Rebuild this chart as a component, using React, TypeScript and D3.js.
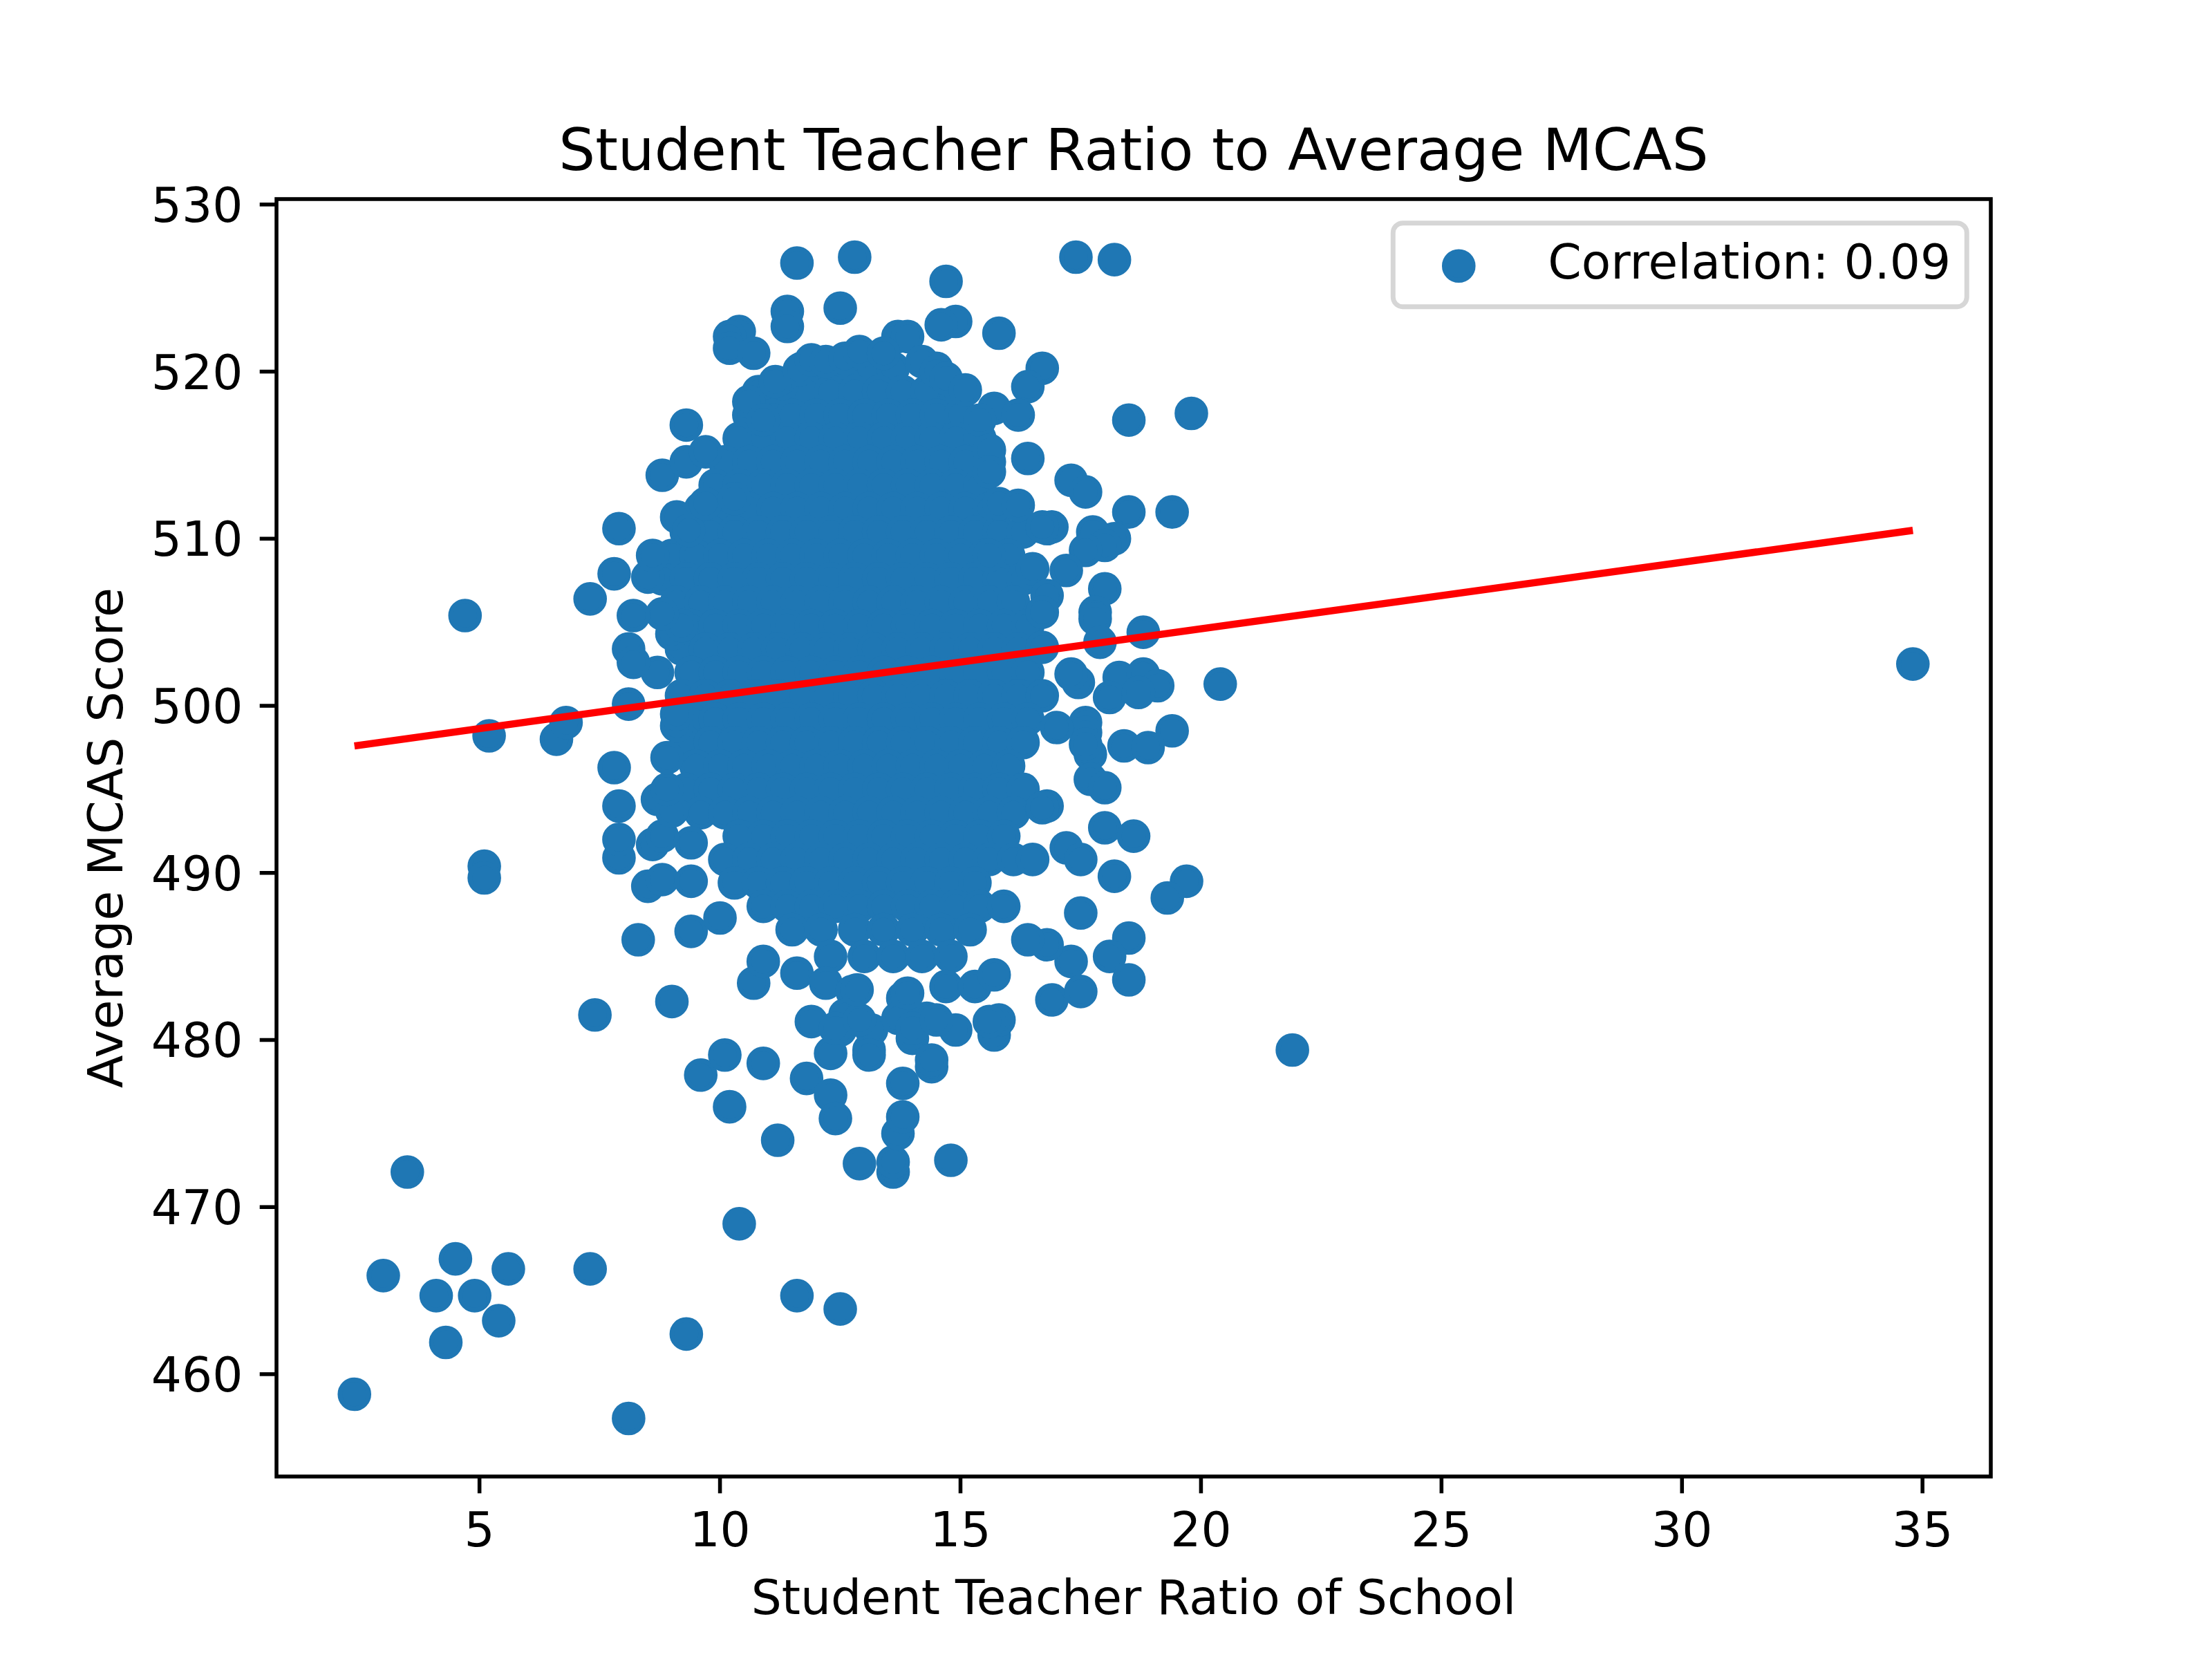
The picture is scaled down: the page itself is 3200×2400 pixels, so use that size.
import * as d3 from 'd3';

// values
const xTicks = [5, 10, 15, 20, 25, 30, 35];
const yTicks = [460, 470, 480, 490, 500, 510, 520, 530];

const lowLeft: [number, number][] = [
  [2.4, 458.8], [3.5, 472.1], [3.0, 465.9], [4.1, 464.7], [4.3, 461.9], [4.5, 466.9],
  [4.9, 464.7], [5.4, 463.2], [5.6, 466.3], [7.3, 466.3], [8.1, 457.35], [9.3, 462.4],
  [10.4, 469.0], [11.6, 464.7], [12.5, 463.9],
];

const lowerPoints: [number, number][] = [
  [7.4, 481.5], [9.0, 482.3], [9.6, 477.9], [10.1, 479.1], [10.2, 476.0], [10.9, 478.6],
  [11.2, 474.0], [11.8, 477.7], [11.9, 481.1], [12.3, 476.7], [12.4, 475.3], [12.5, 480.6],
  [12.3, 479.2], [12.9, 472.6], [13.6, 472.1], [13.6, 472.7], [13.7, 474.4], [13.8, 475.4],
  [13.8, 477.4], [14.8, 472.8], [14.4, 478.4], [13.1, 479.4], [15.7, 480.3], [15.8, 481.2],
  [14.9, 480.6], [16.9, 482.4], [17.5, 482.9], [18.5, 483.6], [10.7, 483.4], [11.6, 484.0],
  [12.2, 483.4], [12.75, 482.9], [13.8, 482.5], [14.7, 483.2], [15.3, 483.2], [12.6, 481.5],
  [13.15, 480.6], [13.7, 481.3], [14.0, 480.1], [14.3, 481.3], [15.6, 481.1], [21.9, 479.4],
  [14.0, 480.7], [12.4, 480.7], [13.1, 479.1], [14.4, 478.8], [12.9, 481.2], [10.9, 484.7],
  [15.7, 483.9], [13.9, 482.8], [12.85, 483.0], [14.5, 481.2],
];

const leftEdge: [number, number][] = [
  [8.3, 486.0], [9.4, 486.5], [10.0, 487.3], [8.5, 489.2], [8.8, 489.6], [7.9, 490.9],
  [7.9, 492.0], [7.9, 494.0], [7.8, 496.3], [9.4, 491.8], [8.6, 491.7], [8.8, 492.2],
  [8.7, 494.4], [9.0, 493.7], [8.9, 495.0], [8.9, 496.9], [9.1, 498.8], [9.1, 499.5],
  [8.1, 500.1], [8.7, 502.0], [8.1, 503.4], [8.2, 502.6], [9.0, 504.3], [9.2, 504.8],
  [8.8, 505.5], [8.2, 505.4], [8.5, 507.7], [8.6, 509.0], [9.1, 511.3], [9.35, 510.5],
  [9.7, 512.1], [10.3, 512.4], [7.9, 510.6], [7.8, 507.9], [7.3, 506.4], [6.6, 498.0],
  [6.8, 499.0], [5.2, 498.2], [5.1, 490.4], [5.1, 489.7], [4.7, 505.4], [8.8, 513.8],
  [9.3, 514.6], [9.7, 515.2], [9.3, 516.8], [9.4, 489.5],
];

const upperPoints: [number, number][] = [
  [11.6, 526.5], [12.8, 526.85], [17.4, 526.85], [18.2, 526.7], [14.7, 525.4], [11.4, 523.6],
  [11.4, 522.7], [12.5, 523.8], [14.9, 523.0], [15.8, 522.3], [10.4, 522.4], [10.2, 522.1],
  [10.2, 521.4], [10.7, 521.1], [14.6, 522.8], [13.7, 522.1], [13.9, 522.1], [16.7, 520.2],
  [16.4, 519.1], [15.7, 517.8], [16.2, 517.4], [10.6, 518.2], [11.3, 519.3], [11.15, 519.4],
  [11.65, 520.1], [11.9, 520.7], [12.2, 520.6], [12.6, 520.8], [12.9, 521.2], [13.4, 521.1],
  [14.2, 520.6], [14.5, 520.0], [14.7, 519.6], [15.1, 518.9], [15.4, 517.1], [15.6, 515.3],
  [15.6, 514.0], [15.8, 512.1], [16.2, 512.0], [15.6, 509.0], [10.9, 517.1],
];

const rightPoints: [number, number][] = [
  [18.5, 517.1], [19.8, 517.5], [16.4, 514.8], [17.3, 513.5], [17.6, 512.8], [18.5, 511.6],
  [19.4, 511.6], [16.8, 510.6], [17.8, 510.2], [18.2, 510.0], [17.75, 510.4], [18.0, 509.6],
  [17.6, 509.3], [16.9, 510.7], [16.7, 510.7], [17.2, 508.1], [16.5, 508.2], [18.0, 507.0],
  [17.8, 505.6], [17.8, 505.2], [17.9, 503.8], [18.8, 504.4], [16.8, 506.6], [16.7, 505.6],
  [16.7, 503.5], [17.45, 501.4], [17.3, 501.9], [18.3, 501.7], [18.8, 501.9], [19.1, 501.2],
  [18.1, 500.5], [18.7, 500.8], [20.4, 501.3], [17.6, 499.0], [17.6, 498.4], [17.0, 498.7],
  [18.4, 497.6], [18.9, 497.5], [19.4, 498.5], [17.7, 497.1], [17.6, 497.7], [17.7, 495.6],
  [18.0, 495.1], [16.8, 494.0], [16.7, 493.9], [18.0, 492.7], [18.6, 492.2], [17.2, 491.5],
  [17.5, 490.8], [16.5, 490.8], [18.2, 489.8], [19.7, 489.5], [19.3, 488.5], [17.5, 487.6],
  [15.9, 488.0], [18.5, 486.1], [18.1, 485.0], [17.3, 484.7], [16.8, 485.7], [16.4, 486.0],
  [34.8, 502.5],
];

// the dense middle of the cloud, one row of ratios per score level
const coreRows: [number, number[]][] = [
  [520.2, [11.7, 12.2, 12.6, 13.1, 13.6, 14.5]],
  [518.8, [10.8, 11.3, 11.8, 12.3, 12.8, 13.3, 13.8, 14.3, 14.9]],
  [517.4, [10.6, 11.1, 11.5, 12.0, 12.5, 13.0, 13.5, 14.0, 14.5, 15.0]],
  [516.0, [10.4, 10.9, 11.4, 11.9, 12.4, 12.9, 13.4, 13.9, 14.4, 14.9, 15.4]],
  [514.6, [10.1, 10.6, 11.1, 11.6, 12.1, 12.6, 13.1, 13.6, 14.1, 14.6, 15.1, 15.6]],
  [513.2, [9.9, 10.4, 10.9, 11.4, 11.9, 12.4, 12.9, 13.4, 13.9, 14.4, 14.9, 15.4]],
  [511.8, [9.6, 10.1, 10.6, 11.1, 11.6, 12.1, 12.6, 13.1, 13.6, 14.1, 14.6, 15.1, 15.6]],
  [510.4, [9.3, 9.8, 10.3, 10.8, 11.3, 11.8, 12.3, 12.8, 13.3, 13.8, 14.3, 14.8, 15.3, 15.8, 16.3]],
  [509.0, [9.0, 9.5, 10.0, 10.5, 11.0, 11.5, 12.0, 12.5, 13.0, 13.5, 14.0, 14.5, 15.0, 15.5, 16.0]],
  [507.6, [8.8, 9.3, 9.8, 10.3, 10.8, 11.3, 11.8, 12.3, 12.8, 13.3, 13.8, 14.3, 14.8, 15.3, 15.8, 16.3]],
  [506.2, [9.1, 9.6, 10.1, 10.6, 11.1, 11.6, 12.1, 12.6, 13.1, 13.6, 14.1, 14.6, 15.1, 15.6, 16.1]],
  [504.8, [9.4, 9.9, 10.4, 10.9, 11.4, 11.9, 12.4, 12.9, 13.4, 13.9, 14.4, 14.9, 15.4, 15.9, 16.4]],
  [503.4, [9.2, 9.7, 10.2, 10.7, 11.2, 11.7, 12.2, 12.7, 13.2, 13.7, 14.2, 14.7, 15.2, 15.7, 16.2]],
  [502.0, [9.4, 9.9, 10.4, 10.9, 11.4, 11.9, 12.4, 12.9, 13.4, 13.9, 14.4, 14.9, 15.4, 15.9, 16.4]],
  [500.6, [9.2, 9.7, 10.2, 10.7, 11.2, 11.7, 12.2, 12.7, 13.2, 13.7, 14.2, 14.7, 15.2, 15.7, 16.2, 16.7]],
  [499.2, [9.4, 9.9, 10.4, 10.9, 11.4, 11.9, 12.4, 12.9, 13.4, 13.9, 14.4, 14.9, 15.4, 15.9, 16.4]],
  [497.8, [9.3, 9.8, 10.3, 10.8, 11.3, 11.8, 12.3, 12.8, 13.3, 13.8, 14.3, 14.8, 15.3, 15.8, 16.3]],
  [496.4, [9.5, 10.0, 10.5, 11.0, 11.5, 12.0, 12.5, 13.0, 13.5, 14.0, 14.5, 15.0, 15.5, 16.0]],
  [495.0, [9.3, 9.8, 10.3, 10.8, 11.3, 11.8, 12.3, 12.8, 13.3, 13.8, 14.3, 14.8, 15.3, 15.8, 16.3]],
  [493.6, [9.6, 10.1, 10.6, 11.1, 11.6, 12.1, 12.6, 13.1, 13.6, 14.1, 14.6, 15.1, 15.6, 16.1]],
  [492.2, [10.4, 10.9, 11.4, 11.9, 12.4, 12.9, 13.4, 13.9, 14.4, 14.9, 15.4, 15.9]],
  [490.8, [10.1, 10.6, 11.1, 11.6, 12.1, 12.6, 13.1, 13.6, 14.1, 14.6, 15.1, 15.6, 16.1]],
  [489.4, [10.3, 10.8, 11.3, 11.8, 12.3, 12.8, 13.3, 13.8, 14.3, 14.8, 15.3]],
  [488.0, [10.9, 11.4, 11.9, 12.4, 12.9, 13.4, 13.9, 14.4, 14.9, 15.4]],
  [486.6, [11.5, 12.1, 12.8, 13.4, 14.0, 14.6, 15.2]],
  [485.0, [12.3, 13.0, 13.6, 14.2, 14.8]],
];

// end points of the fitted line
const fitX = [2.4, 34.8];
const fitY = [497.6, 510.5];

const legendLabel = 'Correlation: 0.09';

const W = 3200;
const H = 2400;
const margin = { left: 400, right: 320, top: 288, bottom: 264 };
const pt = 500 / 72;
const blue = '#1f77b4';
const font = 'DejaVu Sans, sans-serif';

export default function App() {
  const points: [number, number][] = [
    ...coreRows.flatMap(([y, xs]) => xs.map((x) => [x, y] as [number, number])),
    ...leftEdge,
    ...upperPoints,
    ...rightPoints,
    ...lowerPoints,
    ...lowLeft,
  ];

  const [x0, x1] = d3.extent(points, (d) => d[0]) as [number, number];
  const [y0, y1] = d3.extent(points, (d) => d[1]) as [number, number];
  const px = (x1 - x0) * 0.05;
  const py = (y1 - y0) * 0.05;

  const x = d3.scaleLinear().domain([x0 - px, x1 + px]).range([margin.left, W - margin.right]);
  const y = d3.scaleLinear().domain([y0 - py, y1 + py]).range([H - margin.bottom, margin.top]);

  const left = margin.left;
  const right = W - margin.right;
  const top = margin.top;
  const bottom = H - margin.bottom;
  const tickLen = 3.5 * pt;
  const tickFs = 10 * pt;

  const fitLine =
    d3
      .line<number>()
      .x((d) => x(d))
      .y((_, i) => y(fitY[i]))(fitX) ?? '';

  const legW = 830;
  const legH = 121;
  const legX = right - 0.5 * tickFs - legW;
  const legY = top + 0.5 * tickFs;

  return (
    <svg
      width={W}
      height={H}
      viewBox={`0 0 ${W} ${H}`}
      style={{ position: 'absolute', left: 0, top: 0, background: '#fff' }}
      fontFamily={font}
    >
      <rect width={W} height={H} fill="#fff" />

      {points.map((d, i) => (
        <circle key={i} cx={x(d[0])} cy={y(d[1])} r={3 * pt} fill={blue} stroke={blue} strokeWidth={pt} />
      ))}

      <path d={fitLine} fill="none" stroke="#ff0000" strokeWidth={1.5 * pt} />

      {/* frame */}
      <rect
        x={left}
        y={top}
        width={right - left}
        height={bottom - top}
        fill="none"
        stroke="#000"
        strokeWidth={0.8 * pt}
      />

      {xTicks.map((t) => (
        <g key={`x${t}`} transform={`translate(${x(t)},0)`}>
          <line y1={bottom} y2={bottom + tickLen} stroke="#000" strokeWidth={0.8 * pt} />
          <text y={bottom + 2 * tickLen + 0.76 * tickFs} fontSize={tickFs} textAnchor="middle">
            {t}
          </text>
        </g>
      ))}

      {yTicks.map((t) => (
        <g key={`y${t}`} transform={`translate(0,${y(t)})`}>
          <line x1={left} x2={left - tickLen} stroke="#000" strokeWidth={0.8 * pt} />
          <text x={left - 2 * tickLen} y={0.36 * tickFs} fontSize={tickFs} textAnchor="end">
            {t}
          </text>
        </g>
      ))}

      <text x={(left + right) / 2} y={top - 6 * pt} fontSize={12 * pt} textAnchor="middle">
        Student Teacher Ratio to Average MCAS
      </text>

      <text x={(left + right) / 2} y={2335} fontSize={tickFs} textAnchor="middle">
        Student Teacher Ratio of School
      </text>

      <text
        transform={`translate(177,${(top + bottom) / 2}) rotate(-90)`}
        fontSize={tickFs}
        textAnchor="middle"
      >
        Average MCAS Score
      </text>

      {/* legend */}
      <g>
        <rect
          x={legX}
          y={legY}
          width={legW}
          height={legH}
          rx={14}
          fill="#fff"
          fillOpacity={0.8}
          stroke="#cccccc"
          strokeOpacity={0.8}
          strokeWidth={pt}
        />
        <circle cx={legX + 95} cy={legY + 62} r={3 * pt} fill={blue} stroke={blue} strokeWidth={pt} />
        <text x={legX + 224} y={legY + 80} fontSize={tickFs}>
          {legendLabel}
        </text>
      </g>
    </svg>
  );
}
